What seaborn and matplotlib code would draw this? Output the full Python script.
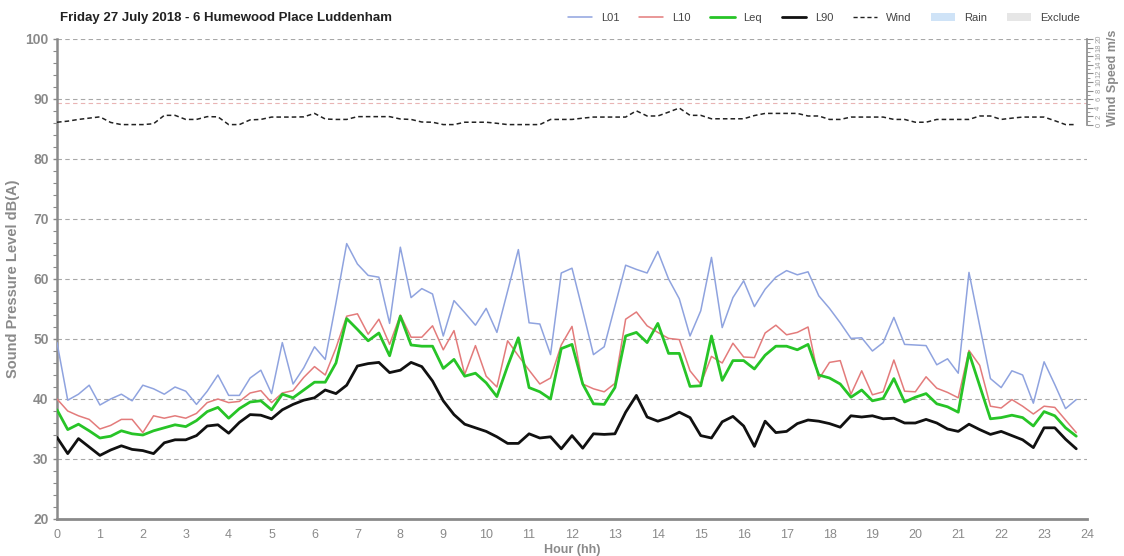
import numpy as np
import pandas as pd
import matplotlib
matplotlib.use("Agg")
import matplotlib.pyplot as plt
from matplotlib.lines import Line2D
from matplotlib.patches import Patch
from matplotlib.ticker import MultipleLocator
import seaborn as sns

# 15-minute statistics for the day (00:00 .. 23:45)
hours = [i * 0.25 for i in range(96)]

L01 = [49.4, 39.8, 40.8, 42.3, 39.0, 40.0, 40.8, 39.7, 42.3, 41.7,
       40.8, 42.0, 41.3, 39.1, 41.3, 44.0, 40.6, 40.6, 43.5, 44.8,
       40.9, 49.4, 42.5, 45.2, 48.7, 46.6, 56.0, 65.9, 62.5, 60.6,
       60.3, 52.6, 65.3, 56.9, 58.4, 57.5, 50.5, 56.4, 54.4, 52.3,
       55.1, 51.1, 58.0, 64.9, 52.7, 52.5, 47.4, 61.0, 61.8, 54.7,
       47.4, 48.7, 55.5, 62.3, 61.6, 61.0, 64.6, 60.0, 56.7, 50.5,
       54.7, 63.6, 51.9, 56.9, 59.7, 55.4, 58.3, 60.3, 61.4, 60.7,
       61.2, 57.2, 55.1, 52.7, 50.1, 50.2, 48.0, 49.4, 53.6, 49.1,
       49.0, 48.9, 45.7, 46.7, 44.3, 61.1, 52.2, 43.4, 41.9, 44.7,
       44.0, 39.3, 46.2, 42.4, 38.4, 39.9]

L10 = [40.0, 38.0, 37.2, 36.6, 35.0, 35.6, 36.6, 36.6, 34.4, 37.2,
       36.8, 37.2, 36.8, 37.6, 39.4, 40.0, 39.4, 39.6, 41.0, 41.4,
       39.4, 41.0, 41.4, 43.6, 45.4, 44.0, 48.5, 53.8, 54.2, 50.8,
       53.3, 49.1, 54.0, 50.3, 50.3, 52.2, 48.2, 51.4, 44.1, 48.9,
       43.8, 42.0, 49.7, 47.2, 44.8, 42.5, 43.5, 49.0, 52.1, 42.5,
       41.7, 41.2, 42.6, 53.3, 54.5, 52.2, 51.1, 50.1, 49.9, 44.7,
       42.5, 47.1, 46.0, 49.3, 47.0, 46.9, 51.0, 52.3, 50.7, 51.1,
       52.0, 43.3, 46.1, 46.4, 40.8, 44.7, 40.7, 41.2, 46.5, 41.3,
       41.2, 43.7, 41.8, 41.1, 40.2, 48.1, 45.6, 38.8, 38.5, 39.9,
       38.8, 37.5, 38.8, 38.6, 36.5, 34.4]

Leq = [38.2, 34.9, 35.8, 34.7, 33.5, 33.8, 34.7, 34.2, 34.0, 34.7,
       35.2, 35.7, 35.4, 36.4, 37.9, 38.6, 36.8, 38.4, 39.5, 39.7,
       38.2, 40.8, 40.2, 41.5, 42.8, 42.8, 46.0, 53.4, 51.6, 49.7,
       51.0, 47.2, 53.8, 49.0, 48.8, 48.8, 45.1, 46.6, 43.8, 44.3,
       42.7, 40.4, 45.5, 50.2, 41.9, 41.2, 40.0, 48.4, 49.1, 42.5,
       39.2, 39.1, 41.9, 50.5, 51.1, 49.4, 52.6, 47.6, 47.6, 42.1,
       42.2, 50.5, 43.1, 46.4, 46.4, 45.0, 47.3, 48.8, 48.8, 48.2,
       49.1, 44.0, 43.5, 42.5, 40.3, 41.5, 39.7, 40.1, 43.4, 39.5,
       40.3, 40.9, 39.2, 38.7, 37.8, 47.7, 42.2, 36.7, 36.9, 37.3,
       36.9, 35.5, 37.9, 37.2, 35.2, 33.8]

L90 = [33.6, 30.9, 33.4, 32.0, 30.6, 31.5, 32.2, 31.6, 31.4, 30.9,
       32.7, 33.2, 33.2, 33.9, 35.5, 35.7, 34.3, 36.1, 37.4, 37.3,
       36.7, 38.2, 39.1, 39.8, 40.2, 41.5, 40.9, 42.3, 45.5, 45.9,
       46.1, 44.4, 44.8, 46.1, 45.4, 43.0, 39.7, 37.4, 35.8, 35.2,
       34.6, 33.7, 32.6, 32.6, 34.2, 33.5, 33.7, 31.7, 33.9, 31.8,
       34.2, 34.1, 34.2, 37.8, 40.6, 37.0, 36.3, 36.9, 37.8, 36.9,
       33.9, 33.5, 36.2, 37.1, 35.5, 32.1, 36.3, 34.4, 34.6, 35.9,
       36.5, 36.3, 35.9, 35.3, 37.2, 37.0, 37.2, 36.7, 36.8, 36.0,
       36.0, 36.6, 36.0, 35.0, 34.6, 35.8, 34.9, 34.1, 34.6, 33.9,
       33.2, 31.9, 35.2, 35.2, 33.3, 31.7]

wind = [0.65, 0.9, 1.3, 1.6, 1.9, 0.6, 0.1, 0.1, 0.1, 0.3,
        2.25, 2.25, 1.3, 1.3, 1.95, 1.9, 0.1, 0.1, 1.2, 1.3,
        1.85, 1.85, 1.85, 1.9, 2.7, 1.4, 1.3, 1.3, 1.95, 1.95,
        1.95, 1.95, 1.4, 1.3, 0.7, 0.65, 0.1, 0.1, 0.65, 0.65,
        0.65, 0.4, 0.1, 0.1, 0.1, 0.1, 1.3, 1.3, 1.3, 1.6,
        1.85, 1.85, 1.85, 1.85, 3.3, 2.1, 2.1, 3.0, 3.95, 2.25,
        2.25, 1.45, 1.45, 1.45, 1.45, 2.2, 2.7, 2.7, 2.7, 2.7,
        2.1, 2.1, 1.3, 1.3, 1.85, 1.85, 1.85, 1.85, 1.3, 1.3,
        0.65, 0.65, 1.3, 1.3, 1.3, 1.3, 2.1, 2.1, 1.3, 1.6,
        1.85, 1.85, 1.85, 1.0, 0.1, 0.1]

hour_ticks = list(range(0, 25))
spl_ticks = list(range(20, 101, 10))
wind_ticks = list(range(0, 21, 2))

title = "Friday 27 July 2018 - 6 Humewood Place Luddenham"

df = pd.DataFrame({"hour": hours, "L01": L01, "L10": L10, "Leq": Leq,
                   "L90": L90, "wind": wind})

sns.set_style("white")
plt.rcParams["font.family"] = ["Liberation Sans", "DejaVu Sans"]

GREY = "#8a8a8a"
colors = {"L01": "#8fa3df", "L10": "#e37b7b", "Leq": "#27c427", "L90": "#111111"}
widths = {"L01": 1.1, "L10": 1.1, "Leq": 2.0, "L90": 2.0}

fig = plt.figure(figsize=(11.24, 5.56), dpi=100)
ax = fig.add_axes([57 / 1124, 1 - 519 / 556, (1087 - 57) / 1124, (519 - 39) / 556])

# reference grid and criterion line
for v in spl_ticks[1:]:
    ax.axhline(v, ls=(0, (4, 3)), color="#a8a8a8", lw=0.8, zorder=0)
ax.axhline(89.4, ls=(0, (4, 3)), color="#e9b4b4", lw=0.8, zorder=0)

for name in ["L01", "L10", "Leq", "L90"]:
    sns.lineplot(data=df, x="hour", y=name, ax=ax, color=colors[name],
                 lw=widths[name], legend=False, zorder=3)

ax.set_xlim(0, 24)
ax.set_ylim(20, 100)
ax.set_xticks(hour_ticks)
ax.set_yticks(spl_ticks)
ax.yaxis.set_minor_locator(MultipleLocator(2))
ax.tick_params(axis="y", which="major", length=3, width=1, color=GREY,
               labelsize=10, labelcolor=GREY, pad=3)
ax.tick_params(axis="y", which="minor", length=3, width=0.8, color=GREY)
ax.tick_params(axis="x", which="major", length=4, width=1, color=GREY,
               labelsize=9, labelcolor=GREY, pad=3)
for lab in ax.get_yticklabels():
    lab.set_fontweight("bold")
ax.set_xlabel("Hour (hh)", fontsize=9, fontweight="bold", color=GREY, labelpad=2)
ax.set_ylabel("Sound Pressure Level dB(A)", fontsize=10.5, fontweight="bold",
              color=GREY, labelpad=4)
for side in ["top", "right"]:
    ax.spines[side].set_visible(False)
ax.spines["left"].set_color(GREY)
ax.spines["left"].set_linewidth(1.8)
ax.spines["bottom"].set_color(GREY)
ax.spines["bottom"].set_linewidth(2.0)

# wind speed on its own scale in the upper band
ax2 = ax.twinx()
sns.lineplot(data=df, x="hour", y="wind", ax=ax2, color="#222222", lw=1.1,
             ls=(0, (3, 2)), legend=False)
ax2.set_ylim(-91.6, 20)
ax2.set_yticks(wind_ticks)
ax2.set_yticks([t for t in range(0, 21)], minor=True)
ax2.tick_params(axis="y", which="major", length=4, width=0.8, color=GREY,
                labelsize=5.5, labelcolor="#a0a0a0", pad=2, labelrotation=90)
ax2.tick_params(axis="y", which="minor", length=2.5, width=0.6, color=GREY)
for lab in ax2.get_yticklabels():
    lab.set_va("center")
for side in ["top", "left", "bottom"]:
    ax2.spines[side].set_visible(False)
ax2.spines["right"].set_bounds(0, 20)
ax2.spines["right"].set_color(GREY)
ax2.spines["right"].set_linewidth(1.2)
ax2.set_ylabel("")
ax2.set_xlabel("")
fig.text(1113 / 1124, 1 - 78 / 556, "Wind Speed m/s", rotation=90, ha="center",
         va="center", fontsize=9, fontweight="bold", color=GREY)

fig.text(60 / 1124, 1 - 18 / 556, title, ha="left", va="center",
         fontsize=9.5, fontweight="bold", color="#222222")

handles = [
    Line2D([], [], color=colors["L01"], lw=1.1),
    Line2D([], [], color=colors["L10"], lw=1.1),
    Line2D([], [], color=colors["Leq"], lw=2.0),
    Line2D([], [], color=colors["L90"], lw=2.0),
    Line2D([], [], color="#222222", lw=1.0, ls=(0, (3, 2))),
    Patch(facecolor="#cfe3f7", edgecolor="none"),
    Patch(facecolor="#e6e6e6", edgecolor="none"),
]
labels = ["L01", "L10", "Leq", "L90", "Wind", "Rain", "Exclude"]
leg = fig.legend(handles, labels, loc="center right",
                 bbox_to_anchor=(1090 / 1124, 1 - 18 / 556), ncol=7,
                 frameon=False, fontsize=8, handlelength=2.2, handleheight=0.8,
                 columnspacing=1.75, handletextpad=0.8)
for t in leg.get_texts():
    t.set_color("#444444")

fig.savefig("out.png", dpi=100)
